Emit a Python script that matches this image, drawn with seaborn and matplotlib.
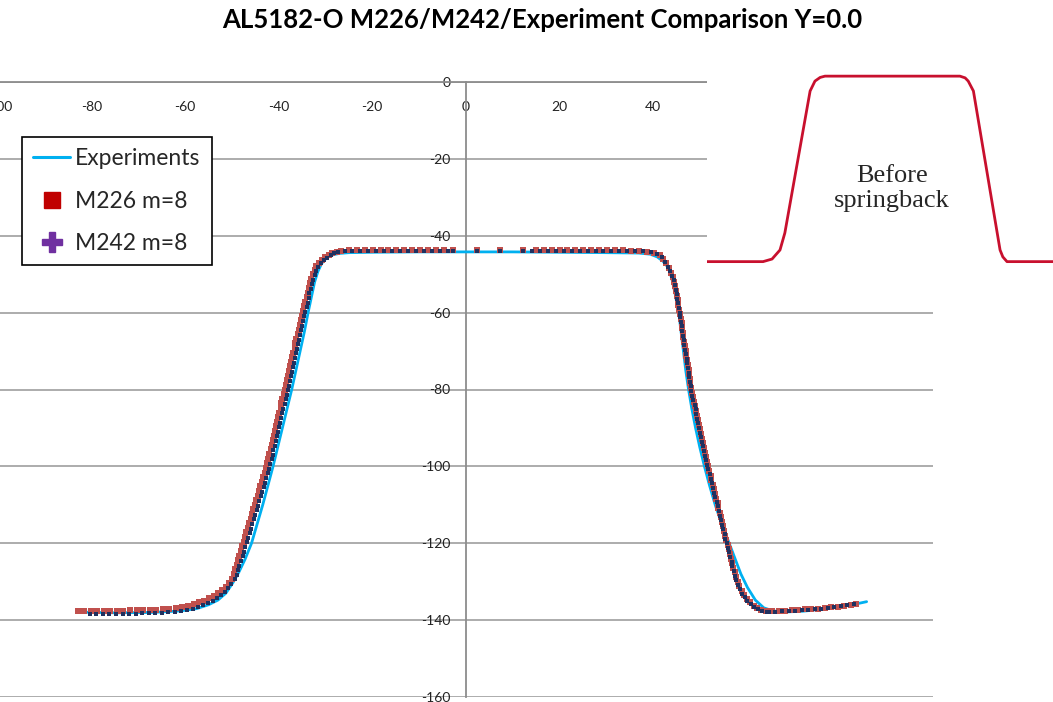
import matplotlib
matplotlib.use("Agg")
import matplotlib.pyplot as plt
from matplotlib.lines import Line2D
import seaborn as sns

# ---------------- data ----------------
exp_x = [-83.0, -75.0, -67.0, -61.0, -57.5, -55.0, -53.0, -51.3, -49.8, -48.5, -47.2, -45.8,
         -44.6, -43.4, -42.3, -41.2, -40.2, -39.2, -38.2, -37.2, -36.3, -35.4, -34.5, -33.7,
         -33.0, -32.3, -31.6, -30.8, -29.8, -28.5, -27.0, -25.0, -20.0, -10.0, 0.0, 10.0,
         20.0, 30.0, 37.0, 39.5, 41.0, 42.2, 43.3, 44.1, 44.8, 45.6, 46.1, 46.6, 47.1, 47.7,
         48.4, 49.2, 50.1, 51.1, 52.2, 53.4, 54.8, 56.4, 57.8, 58.9, 60.3, 62.0, 63.8, 65.8,
         68.0, 72.0, 76.0, 80.0, 83.5, 85.8]
exp_y = [-137.9, -138.1, -138.0, -137.6, -137.0, -136.0, -134.8, -133.0, -130.3, -127.5, -124.2, -120.0,
         -115.0, -110.0, -105.0, -100.0, -95.0, -90.0, -85.0, -80.0, -75.0, -70.0, -65.0, -60.0,
         -56.0, -52.0, -49.3, -47.2, -45.8, -45.0, -44.6, -44.4, -44.3, -44.2, -44.2, -44.2,
         -44.3, -44.4, -44.5, -44.8, -45.5, -46.6, -48.2, -51.0, -55.0, -60.0, -65.0, -70.0, -75.0, -80.0,
         -85.0, -90.0, -95.0, -100.0, -105.0, -110.0, -115.0, -120.0, -124.5, -128.0, -131.5, -134.8, -136.8, -137.6,
         -137.9, -137.7, -137.2, -136.6, -135.8, -135.2]

m226_x = [-83.0, -81.6, -80.2, -78.8, -77.4, -76.0, -74.6, -73.2, -71.8, -70.4, -69.0, -67.6, -66.2, -64.8,
          -63.4, -62.0, -60.7, -59.4, -58.2, -57.0, -55.9, -54.9, -53.9, -53.0, -52.1, -51.3, -50.6,
          -49.9, -49.6, -49.3, -49.0, -48.7, -48.4, -48.1, -47.8, -47.5, -47.2, -46.9, -46.6, -46.3, -46.0,
          -45.7, -45.4, -45.1, -44.8, -44.5, -44.2, -43.9, -43.6, -43.3, -43.0, -42.7, -42.4, -42.2, -42.0,
          -41.7, -41.5, -41.3, -41.0, -40.8, -40.6, -40.3, -40.1, -39.9, -39.6, -39.4, -39.2, -38.9, -38.7,
          -38.5, -38.2, -38.0, -37.8, -37.6, -37.3, -37.1, -36.9, -36.6, -36.4, -36.2, -35.9, -35.7, -35.5,
          -35.2, -35.0, -34.7, -34.5, -34.3, -34.0, -33.8, -33.5, -33.3, -33.0, -32.7, -32.3, -31.9, -31.4,
          -30.8, -30.1, -29.3, -28.5, -27.6,
          -26.7, -25.0, -23.3, -21.6, -19.9, -18.2, -16.5, -14.8, -13.1, -11.4, -9.7, -8.0, -6.3, -4.6,
          -2.7, 2.4, 7.3, 12.3, 15.0, 16.7, 18.4, 20.1, 21.8, 23.5, 25.2, 26.9, 28.6, 30.3, 32.0, 33.7,
          35.4, 37.1, 38.8, 40.3,
          41.5, 42.3, 42.9, 43.5, 43.9, 44.3, 44.6, 44.8, 45.0, 45.2, 45.4, 45.5, 45.7, 45.9, 46.0, 46.2,
          46.3, 46.5, 46.6, 46.8, 46.9, 47.1, 47.2, 47.4, 47.5, 47.7, 47.8, 48.0, 48.1, 48.3, 48.4, 48.7,
          48.9, 49.1, 49.3, 49.5, 49.7, 49.9, 50.2, 50.4, 50.6, 50.8, 51.0, 51.2, 51.5, 51.7, 51.9, 52.1,
          52.4, 52.6, 52.9, 53.1, 53.4, 53.6, 53.9, 54.1, 54.4, 54.6, 54.9, 55.1, 55.3, 55.6, 55.8, 56.1,
          56.3, 56.6, 56.8, 57.1, 57.3, 57.6, 57.9, 58.2, 58.6, 59.1, 59.6, 60.2, 60.9, 61.6, 62.4, 63.3,
          64.3,
          65.6, 67.0, 68.4, 69.8, 71.2, 72.6, 74.0, 75.4, 76.8, 78.2, 79.6, 81.0, 82.4, 83.6]
m226_y = [-137.6, -137.7, -137.7, -137.6, -137.6, -137.5, -137.5, -137.5, -137.4, -137.4, -137.4, -137.3, -137.3, -137.2,
          -137.0, -136.8, -136.5, -136.2, -135.8, -135.4, -134.9, -134.3, -133.7, -133.0, -132.2, -131.3, -130.3,
          -129.2, -128.0, -126.8, -125.6, -124.4, -123.2, -122.0, -120.8, -119.6, -118.4, -117.2, -116.0, -114.8, -113.6,
          -112.4, -111.2, -110.0, -108.8, -107.6, -106.4, -105.2, -104.0, -102.8, -101.6, -100.4, -99.2, -98.0, -96.8,
          -95.6, -94.4, -93.2, -92.0, -90.8, -89.6, -88.4, -87.2, -86.0, -84.8, -83.6, -82.4, -81.2, -80.0,
          -78.8, -77.6, -76.4, -75.2, -74.0, -72.8, -71.6, -70.4, -69.2, -68.0, -66.8, -65.6, -64.4, -63.2,
          -62.0, -60.8, -59.6, -58.4, -57.2, -56.0, -54.8, -53.6, -52.4, -51.2, -50.0, -48.9, -47.9, -47.0,
          -46.2, -45.5, -44.9, -44.5, -44.2,
          -43.9, -43.8, -43.8, -43.8, -43.8, -43.8, -43.8, -43.8, -43.8, -43.8, -43.8, -43.8, -43.8, -43.8,
          -43.8, -43.8, -43.8, -43.8, -43.8, -43.8, -43.8, -43.8, -43.8, -43.8, -43.8, -43.8, -43.8, -43.8, -43.8, -43.8,
          -43.9, -44.0, -44.2, -44.5,
          -45.0, -46.0, -47.2, -48.4, -49.6, -50.8, -52.0, -53.2, -54.4, -55.6, -56.8, -58.0, -59.2, -60.4, -61.6, -62.8,
          -64.0, -65.2, -66.4, -67.6, -68.8, -70.0, -71.2, -72.4, -73.6, -74.8, -76.0, -77.2, -78.4, -79.6, -80.8, -82.0,
          -83.2, -84.4, -85.6, -86.8, -88.0, -89.2, -90.4, -91.6, -92.8, -94.0, -95.2, -96.4, -97.6, -98.8, -100.0, -101.2,
          -102.4, -103.6, -104.8, -106.0, -107.2, -108.4, -109.6, -110.8, -112.0, -113.2, -114.4, -115.6, -116.8, -118.0, -119.2, -120.4,
          -121.6, -122.8, -124.0, -125.2, -126.4, -127.6, -128.8, -130.0, -131.2, -132.4, -133.5, -134.5, -135.4, -136.2, -136.8, -137.3,
          -137.6,
          -137.7, -137.6, -137.5, -137.4, -137.3, -137.2, -137.1, -137.0, -136.9, -136.7, -136.5, -136.3, -136.1, -135.8]

m242_x = [-80.4, -79.0, -77.6, -76.2, -74.8, -73.4, -72.0, -70.6, -69.2, -67.8, -66.4, -65.0, -63.6,
          -62.2, -60.9, -59.6, -58.4, -57.2, -56.1, -55.1, -54.1, -53.2, -52.3, -51.5, -50.8, -50.1,
          -49.3, -49.0, -48.7, -48.4, -48.0, -47.7, -47.4, -47.1, -46.8,
          -46.5, -46.2, -45.9, -45.6, -45.3, -45.0, -44.7, -44.4, -44.1, -43.8, -43.5, -43.2, -42.9, -42.6, -42.3, -42.0,
          -41.8, -41.5, -41.3, -41.1, -40.8, -40.6, -40.4, -40.1, -39.9, -39.7, -39.4, -39.2, -39.0, -38.7, -38.5, -38.3, -38.0,
          -37.8, -37.6, -37.4, -37.2, -36.9, -36.7, -36.5, -36.3, -36.0, -35.8, -35.6, -35.4, -35.2, -34.9, -34.7, -34.5,
          -34.3, -34.0, -33.8, -33.6, -33.4, -33.1, -32.9, -32.6, -32.3, -31.9, -31.5, -31.0, -30.4, -29.7, -28.9, -28.1, -27.2,
          -25.9, -24.2, -22.5, -20.8, -19.1, -17.4, -15.7, -14.0, -12.3, -10.6, -8.9, -7.2, -5.5, -3.8,
          -2.7, 2.4, 7.3, 12.3, 14.2, 15.9, 17.6, 19.3, 21.0, 22.7, 24.4, 26.1, 27.8, 29.5, 31.2, 32.9,
          34.6, 36.3, 38.0, 39.6, 40.9,
          42.0, 42.7, 43.3, 43.8, 44.2, 44.5, 44.8, 45.0, 45.2, 45.3, 45.5, 45.6, 45.8, 45.9, 46.1, 46.2,
          46.4, 46.5, 46.7, 46.8, 47.0, 47.1, 47.3, 47.4, 47.6, 47.7, 47.9, 48.0, 48.2, 48.3, 48.5, 48.7,
          49.0, 49.2, 49.4, 49.6, 49.8, 50.0, 50.2, 50.4, 50.6, 50.8, 51.0, 51.3, 51.5, 51.7, 51.9, 52.2,
          52.4, 52.7, 52.9, 53.2, 53.4, 53.7, 53.9, 54.2, 54.4, 54.7, 54.9, 55.1, 55.4, 55.6, 55.9, 56.1,
          56.4, 56.6, 56.9, 57.1, 57.4, 57.6, 57.9, 58.3, 58.7, 59.2, 59.7, 60.3, 61.0, 61.7, 62.5, 63.4,
          64.4,
          65.0, 66.3, 67.7, 69.1, 70.5, 71.9, 73.3, 74.7, 76.1, 77.5, 78.9, 80.3, 81.7, 83.0]
m242_y = [-138.5, -138.5, -138.4, -138.4, -138.4, -138.3, -138.3, -138.3, -138.2, -138.2, -138.1, -138.1, -138.0,
          -137.8, -137.6, -137.3, -137.0, -136.6, -136.1, -135.6, -135.0, -134.3, -133.5, -132.6, -131.6, -130.6,
          -129.4, -128.2, -127.0, -125.8, -124.6, -123.4, -122.2, -121.0, -119.8,
          -118.6, -117.4, -116.2, -115.0, -113.8, -112.6, -111.4, -110.2, -109.0, -107.8, -106.6, -105.4, -104.2, -103.0, -101.8, -100.6,
          -99.4, -98.2, -97.0, -95.8, -94.6, -93.4, -92.2, -91.0, -89.8, -88.6, -87.4, -86.2, -85.0, -83.8, -82.6, -81.4, -80.2,
          -79.0, -77.8, -76.6, -75.4, -74.2, -73.0, -71.8, -70.6, -69.4, -68.2, -67.0, -65.8, -64.6, -63.4, -62.2, -61.0,
          -59.8, -58.6, -57.4, -56.2, -55.0, -53.8, -52.6, -51.4, -50.2, -49.1, -48.1, -47.2, -46.4, -45.7, -45.1, -44.6, -44.2,
          -43.9, -43.9, -43.9, -43.9, -43.9, -43.9, -43.9, -43.9, -43.9, -43.9, -43.9, -43.9, -43.9, -43.9,
          -43.9, -43.9, -43.9, -43.9, -43.9, -43.9, -43.9, -43.9, -43.9, -43.9, -43.9, -43.9, -43.9, -43.9, -43.9, -43.9,
          -43.9, -43.9, -44.0, -44.3, -44.7,
          -45.6, -46.8, -48.0, -49.2, -50.4, -51.6, -52.8, -54.0, -55.2, -56.4, -57.6, -58.8, -60.0, -61.2, -62.4, -63.6,
          -64.8, -66.0, -67.2, -68.4, -69.6, -70.8, -72.0, -73.2, -74.4, -75.6, -76.8, -78.0, -79.2, -80.4, -81.6, -82.8,
          -84.0, -85.2, -86.4, -87.6, -88.8, -90.0, -91.2, -92.4, -93.6, -94.8, -96.0, -97.2, -98.4, -99.6, -100.8, -102.0,
          -103.2, -104.4, -105.6, -106.8, -108.0, -109.2, -110.4, -111.6, -112.8, -114.0, -115.2, -116.4, -117.6, -118.8, -120.0, -121.2,
          -122.4, -123.6, -124.8, -126.0, -127.2, -128.4, -129.6, -130.8, -132.0, -133.1, -134.1, -135.0, -135.8, -136.5, -137.1, -137.5,
          -137.8,
          -137.9, -137.8, -137.7, -137.6, -137.5, -137.4, -137.3, -137.2, -137.0, -136.8, -136.6, -136.4, -136.1, -135.8]

# "Before springback" profile (inset sketch, arbitrary 0-100 units)
before_u = [0.0, 16.2, 18.8, 21.1, 22.5, 29.8, 31.2, 32.7, 34.1, 73.1, 74.6, 75.5, 77.0, 84.7, 85.5, 86.7, 100.0]
before_v = [6.2, 6.2, 7.4, 11.6, 19.5, 85.3, 89.9, 91.6, 92.2, 92.2, 91.4, 89.9, 85.3, 11.6, 8.4, 6.2, 6.2]

title = "AL5182-O M226/M242/Experiment Comparison Y=0.0"
series_names = ["Experiments", "M226 m=8", "M242 m=8"]
x_ticks = [-100, -80, -60, -40, -20, 0, 20, 40, 60, 80, 100]
y_ticks = [0, -20, -40, -60, -80, -100, -120, -140, -160]

# ---------------- style ----------------
sns.set_style("white")
plt.rcParams["font.family"] = ["Lato", "DejaVu Sans"]
plt.rcParams["axes.unicode_minus"] = False

C_EXP = "#00B0F0"
C_226 = "#C0504D"
C_242 = "#1F3160"
C_GRID = "#A6A6A6"

fig = plt.figure(figsize=(10.53, 7.02), dpi=100)
W, H = 1053, 702
ax = fig.add_axes([-1.8 / W, 1 - 697 / H, 934.8 / W, 615 / H])

sns.lineplot(x=exp_x, y=exp_y, ax=ax, color=C_EXP, linewidth=2.0, sort=False,
             estimator=None, zorder=3)
sns.scatterplot(x=m226_x, y=m226_y, ax=ax, color=C_226, marker="s", s=14,
                linewidth=0, zorder=4)
sns.scatterplot(x=m242_x, y=m242_y, ax=ax, color=C_242, marker="s", s=9,
                linewidth=0, zorder=5)

ax.set_xlim(-100, 100)
ax.set_ylim(-160, 0)
ax.set_xticks(x_ticks)
ax.set_yticks(y_ticks)
ax.set_xticklabels([str(t) for t in x_ticks])
ax.set_yticklabels([str(t) for t in y_ticks])
ax.yaxis.grid(True, color=C_GRID, linewidth=1.3)
ax.xaxis.grid(False)
ax.spines["left"].set_position(("data", 0))
ax.spines["bottom"].set_position(("data", 0))
ax.spines["top"].set_visible(False)
ax.spines["right"].set_visible(False)
for s in ("left", "bottom"):
    ax.spines[s].set_color("#8C8C8C")
    ax.spines[s].set_linewidth(1.3)
ax.tick_params(axis="x", direction="out", length=4, width=1.2, color="#8C8C8C",
               pad=10, labelsize=10, labelcolor="#222222")
ax.tick_params(axis="y", direction="out", length=4, width=1.2, color="#8C8C8C",
               pad=7, labelsize=10, labelcolor="#222222")
ax.set_xlabel("")
ax.set_ylabel("")
ax.patch.set_alpha(0)

handles = [
    Line2D([0], [0], color=C_EXP, lw=2.2),
    Line2D([0], [0], color="#C00000", marker="s", markersize=12, lw=0),
    Line2D([0], [0], color="#7030A0", marker="P", markersize=14, lw=0),
]
leg = fig.legend(handles, series_names, loc="upper left",
                 bbox_to_anchor=(22 / W, 1 - 137 / H), borderaxespad=0,
                 fontsize=16.5, frameon=True, fancybox=False, edgecolor="black",
                 framealpha=1, handlelength=1.6, handletextpad=0.2,
                 labelspacing=0.92, borderpad=0.5)
leg.get_frame().set_linewidth(1.2)

fig.text(542 / W, 1 - 20 / H, title, ha="center", va="center",
         fontsize=18.5, fontweight="bold", color="black")

# inset sketch
axi = fig.add_axes([707 / W, 1 - 275 / H, 346 / W, 220 / H], zorder=10)
axi.set_facecolor("white")
sns.lineplot(x=before_u, y=before_v, ax=axi, color="#C8102E", linewidth=2.0,
             sort=False, estimator=None)
axi.set_xlim(0, 100)
axi.set_ylim(0, 102)
axi.set_xticks([])
axi.set_yticks([])
for s in axi.spines.values():
    s.set_visible(False)
axi.text(53.4, 40, "Before\nspringback", ha="center", va="center",
         fontsize=19, family=["Liberation Serif"], linespacing=1.2)

fig.savefig("out.png", dpi=100)
